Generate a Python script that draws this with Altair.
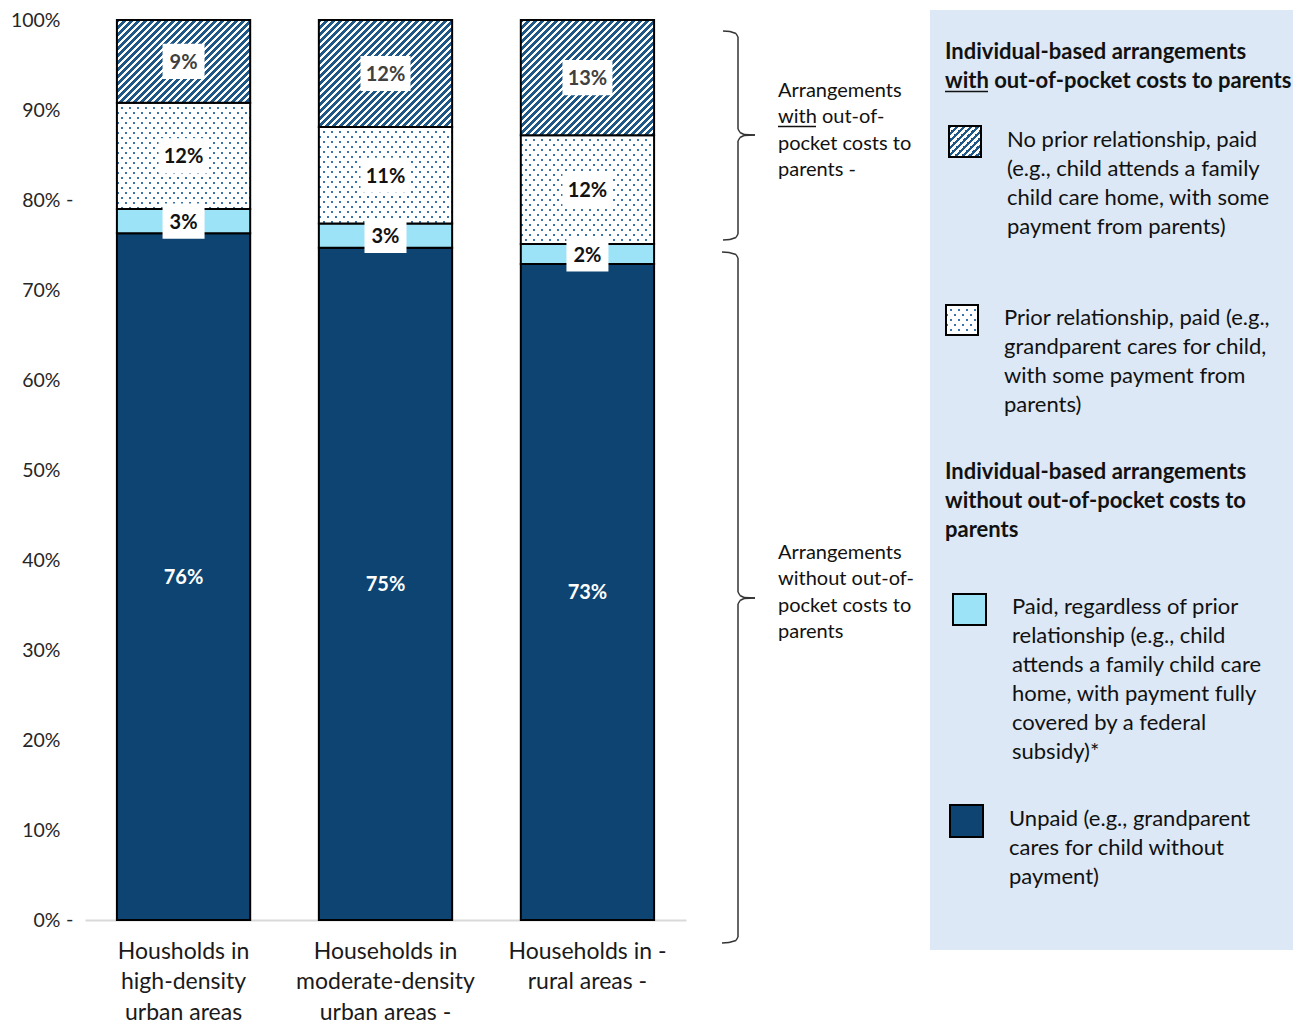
import math
import altair as alt
import pandas as pd

# ---------------- data ----------------
categories = [
    "Housholds in\nhigh-density\nurban areas",
    "Households in\nmoderate-density\nurban areas -",
    "Households in -\nrural areas -",
]
segments = [
    "Unpaid",
    "Paid, regardless of prior relationship",
    "Prior relationship, paid",
    "No prior relationship, paid",
]
unpaid = [76.3, 74.7, 72.9]
paid_subsidy = [2.7, 2.7, 2.2]
prior_paid = [11.8, 10.7, 12.1]
no_prior_paid = [9.2, 11.9, 12.8]
y_ticks = [0, 10, 20, 30, 40, 50, 60, 70, 80, 90, 100]
y_tick_dashes = [80, 0]

rows = []
for i, c in enumerate(categories):
    base = 0.0
    for seg, vals in zip(segments, [unpaid, paid_subsidy, prior_paid, no_prior_paid]):
        v = vals[i]
        rows.append(dict(cat=c, seg=seg, value=v, y0=base, y1=base + v, idx=i))
        base += v
df = pd.DataFrame(rows)

# ---------------- geometry / style ----------------
PLOT_W, PLOT_H = 1208, 900
X_RANGE = 601
P_IN, P_OUT = 0.34, 0.158
STEP = X_RANGE / (len(categories) - P_IN + 2 * P_OUT)
BAND_W = STEP * (1 - P_IN)
PX_PER_UNIT = PLOT_H / 100.0

FONT = "Lato"
NAVY = "#0d4471"
LIGHT = "#9de3f7"
HATCH = "#1f5887"
DOT = "#3a74a8"
BG = "#dce8f5"
DOT_B = 0.8  # row spacing / half column spacing ratio of the dot lattice


def stripes(W, H, A, B, period, width, on, off):
    corners = [A * x + B * y for x in (0, W) for y in (0, H)]
    fmin, fmax = min(corners), max(corners)
    span = fmax - fmin
    gx, gy = A * W / span, B * H / span
    g2 = gx * gx + gy * gy
    dx, dy = gx / g2, gy / g2
    k = fmin / span
    x1, y1 = k * dx, k * dy
    x2, y2 = x1 + dx, y1 + dy

    def t(v):
        return min(1.0, max(0.0, (v - fmin) / span))

    stops = []
    f = math.floor(fmin / period) * period
    while f < fmax:
        for a, b, col in ((f, f + width, on), (f + width, f + period, off)):
            stops.append({"offset": t(a), "color": col})
            stops.append({"offset": t(b), "color": col})
        f += period
    return {"gradient": "linear", "x1": x1, "y1": y1, "x2": x2, "y2": y2, "stops": stops}


def hatch(W, H):
    return stripes(W, H, 1, 1, 7, 3.9, HATCH, "white")


def dots_base(W, H):
    return stripes(W, H, 1, DOT_B, 8, 2.6, DOT, "white")


def dots_mask(W, H):
    return stripes(W, H, 1, -DOT_B, 8, 2.6, "rgba(255,255,255,0)", "white")


x_enc = alt.X(
    "cat:N",
    sort=categories,
    scale=alt.Scale(domain=categories, range=[0, X_RANGE], paddingInner=P_IN, paddingOuter=P_OUT),
    axis=alt.Axis(
        title=None, labelAngle=0, labelExpr="split(datum.label, '\\n')",
        labelFont=FONT, labelFontSize=23, labelLineHeight=30.5, labelColor="#1a1a1a",
        labelPadding=20, labelLimit=0, ticks=False, domainColor="#d9d9d9", domainWidth=2,
        grid=False,
    ),
)


def y_enc(field):
    return alt.Y(
        field,
        scale=alt.Scale(domain=[0, 100], nice=False),
        axis=alt.Axis(
            title=None, values=y_ticks, labelExpr="datum.value + '%'",
            labelFont=FONT, labelFontSize=19.5, labelColor="#262626", labelPadding=25,
            domain=False, ticks=False, grid=False,
        ),
    )


one = pd.DataFrame({"_": [0]})
layers = []

# legend background
layers.append(
    alt.Chart(one).mark_rect(fill=BG).encode(
        x=alt.value(845), x2=alt.value(1230), y=alt.value(-10), y2=alt.value(930)
    )
)

base = alt.Chart(df)

# solid segments
layers.append(
    base.transform_filter(alt.FieldOneOfPredicate(field="seg", oneOf=segments[:2]))
    .mark_bar(stroke="black", strokeWidth=2)
    .encode(
        x=x_enc, y=y_enc("y0:Q"), y2="y1:Q",
        fill=alt.Fill("seg:N", scale=alt.Scale(domain=segments[:2], range=[NAVY, LIGHT]), legend=None),
    )
)

# patterned segments (one layer per bar so each pattern fits its bar)
for i in range(len(categories)):
    Hd = prior_paid[i] * PX_PER_UNIT
    Hh = no_prior_paid[i] * PX_PER_UNIT
    sel_d = (alt.datum.idx == i) & (alt.datum.seg == segments[2])
    sel_h = (alt.datum.idx == i) & (alt.datum.seg == segments[3])
    layers.append(
        base.transform_filter(sel_d).mark_bar(fill=dots_base(BAND_W, Hd), strokeWidth=0)
        .encode(x=x_enc, y=y_enc("y0:Q"), y2="y1:Q")
    )
    layers.append(
        base.transform_filter(sel_d).mark_bar(fill=dots_mask(BAND_W, Hd), stroke="black", strokeWidth=2)
        .encode(x=x_enc, y=y_enc("y0:Q"), y2="y1:Q")
    )
    layers.append(
        base.transform_filter(sel_h).mark_bar(fill=hatch(BAND_W, Hh), stroke="black", strokeWidth=2)
        .encode(x=x_enc, y=y_enc("y0:Q"), y2="y1:Q")
    )

# value labels
lab = base.transform_calculate(
    mid="(datum.y0 + datum.y1) / 2",
    lab="format(datum.value, '.0f') + '%'",
    tc="datum.seg == 'Unpaid' ? 'white' : (datum.seg == 'No prior relationship, paid' ? '#404040' : '#111111')",
    b0="(datum.y0 + datum.y1) / 2 - 1.95",
    b1="(datum.y0 + datum.y1) / 2 + 1.95",
)
for n, w in ((2, 42), (3, 50)):
    layers.append(
        lab.transform_filter((alt.datum.seg != "Unpaid") & (alt.expr.length(alt.datum.lab) == n))
        .mark_bar(width=w, fill="white", strokeWidth=0)
        .encode(x=x_enc, y=y_enc("b0:Q"), y2="b1:Q")
    )
layers.append(
    lab.mark_text(font=FONT, fontWeight="bold", fontSize=20, baseline="middle", dy=1.5)
    .encode(x=x_enc, y=y_enc("mid:Q"), text="lab:N", color=alt.Color("tc:N", scale=None))
)

# dashes after some y tick labels
layers.append(
    alt.Chart(pd.DataFrame({"v": y_tick_dashes}))
    .mark_text(text="-", align="left", baseline="middle", font=FONT, fontSize=20, color="#262626")
    .encode(x=alt.value(-19), y=y_enc("v:Q"))
)


def seg(x1, y1, x2, y2, color="#333333", w=1.5):
    return alt.Chart(one).mark_rule(color=color, strokeWidth=w).encode(
        x=alt.value(x1), y=alt.value(y1), x2=alt.value(x2), y2=alt.value(y2)
    )


def brace(xl, xr, xt, ytop, ymid, ybot):
    pts_top = [(xl, ytop), (xl + 7, ytop + 0.5), (xr - 2, ytop + 2.5), (xr, ytop + 6), (xr, ymid - 6),
               (xr + 2, ymid - 2.5), (xr + 6, ymid - 0.5), (xt, ymid)]
    pts_bot = [(xl, ybot), (xl + 7, ybot - 0.5), (xr - 2, ybot - 2.5), (xr, ybot - 6), (xr, ymid + 6),
               (xr + 2, ymid + 2.5), (xr + 6, ymid + 0.5), (xt, ymid)]
    out = []
    for pts in (pts_top, pts_bot):
        for (a, b), (c, d) in zip(pts[:-1], pts[1:]):
            out.append(seg(a, b, c, d))
    return out


layers += brace(638, 653, 670, 11, 115, 220)
layers += brace(637, 653, 670, 232, 578, 923)


def txt(lines, x, y, size=22, bold=False, lh=29):
    return alt.Chart(one).mark_text(
        align="left", baseline="alphabetic", font=FONT, fontSize=size,
        fontWeight="bold" if bold else "normal", lineHeight=lh, color="#111111",
    ).encode(x=alt.value(x), y=alt.value(y), text=alt.value(lines))


# annotations next to braces
layers.append(txt(["Arrangements", "with out-of-", "pocket costs to", "parents -"], 693, 77, size=20, lh=26.3))
layers.append(seg(693, 106.5, 731, 106.5, color="#111111", w=1.3))
layers.append(txt(["Arrangements", "without out-of-", "pocket costs to", "parents"], 693, 539, size=20, lh=26.3))

# legend panel
layers.append(txt(["Individual-based arrangements", "with out-of-pocket costs to parents"], 860, 38.5, bold=True))
layers.append(seg(860, 71.5, 903, 71.5, color="#111111", w=1.7))
layers.append(txt(["No prior relationship, paid", "(e.g., child attends a family",
                   "child care home, with some", "payment from parents)"], 922, 126.5))
layers.append(txt(["Prior relationship, paid (e.g.,", "grandparent cares for child,",
                   "with some payment from", "parents)"], 919, 304.5))
layers.append(txt(["Individual-based arrangements", "without out-of-pocket costs to", "parents"], 860, 458.5, bold=True))
layers.append(txt(["Paid, regardless of prior", "relationship (e.g., child",
                   "attends a family child care", "home, with payment fully",
                   "covered by a federal", "subsidy)*"], 927, 593.5))
layers.append(txt(["Unpaid (e.g., grandparent", "cares for child without", "payment)"], 924, 805.5))


def swatch(x1, y1, x2, y2, fill):
    return alt.Chart(one).mark_rect(fill=fill, stroke="black", strokeWidth=2).encode(
        x=alt.value(x1), x2=alt.value(x2), y=alt.value(y1), y2=alt.value(y2)
    )


layers.append(swatch(864, 106, 896, 137, hatch(32, 31)))
layers.append(alt.Chart(one).mark_rect(fill=dots_base(32, 30)).encode(
    x=alt.value(861), x2=alt.value(893), y=alt.value(285), y2=alt.value(315)))
layers.append(swatch(861, 285, 893, 315, dots_mask(32, 30)))
layers.append(swatch(868, 574, 901, 605, LIGHT))
layers.append(swatch(865, 785, 898, 817, NAVY))

chart = (
    alt.layer(*layers)
    .properties(
        width=PLOT_W, height=PLOT_H,
        autosize=alt.AutoSizeParams(type="none"),
        padding={"left": 77, "top": 12, "right": 0, "bottom": 109},
    )
    .configure_view(stroke=None)
)

chart.save("out.html", embed_options={"renderer": "svg", "actions": False})
